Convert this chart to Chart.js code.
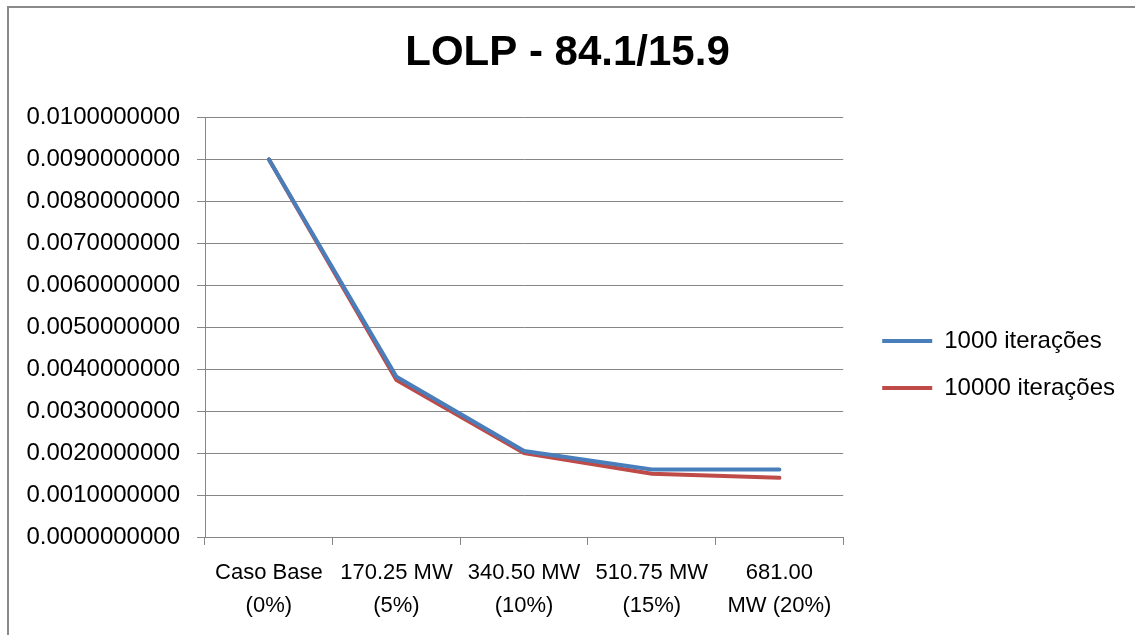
<!DOCTYPE html>
<html>
<head>
<meta charset="utf-8">
<script src="https://cdn.jsdelivr.net/npm/chart.js@4/dist/chart.umd.min.js"></script>
<style>
  body { margin: 0; background: #fff; }
  #wrap { position: relative; width: 1135px; height: 635px; overflow: hidden; }
  #frame { position: absolute; left: 7px; top: 6px; width: 1200px; height: 700px;
           border-left: 2px solid #8a8a8a; border-top: 2px solid #8a8a8a; }
  canvas { position: absolute; left: 0; top: 0; }
</style>
</head>
<body>
<div id="wrap">
  <div id="frame"></div>
  <canvas id="mycanvas" width="1135" height="635"></canvas>
</div>
<script>
var categories = [
  ["Caso Base", "(0%)"],
  ["170.25 MW", "(5%)"],
  ["340.50 MW", "(10%)"],
  ["510.75 MW", "(15%)"],
  ["681.00", "MW (20%)"]
];
var iter1000 = [0.0090, 0.00382, 0.00205, 0.00161, 0.00161];
var iter10000 = [0.0090, 0.00374, 0.00200, 0.00151, 0.00141];

var font = "'Liberation Sans', Arial, sans-serif";
var gray = "#868686";

// move the legend further right of the plot area and lower down
var legendShift = {
  id: "legendShift",
  beforeUpdate: function(chart) {
    var lg = chart.legend;
    if (!lg || lg._shifted) return;
    lg._shifted = true;
    var fit = lg.fit, draw = lg.draw;
    lg.fit = function() { fit.call(this); this.width += 16; };
    lg.draw = function() {
      this.left += 16; this.top += 48; this.bottom += 48;
      draw.call(this);
      this.left -= 16; this.top -= 48; this.bottom -= 48;
    };
  }
};

var chartdata = {
  labels: categories,
  datasets: [
    {
      label: "1000 iterações",
      data: iter1000,
      borderColor: "#4A7EBB",
      backgroundColor: "#4A7EBB",
      borderWidth: 4,
      borderCapStyle: "round",
      pointRadius: 0,
      tension: 0,
      fill: false
    },
    {
      label: "10000 iterações",
      data: iter10000,
      borderColor: "#BE4B48",
      backgroundColor: "#BE4B48",
      borderWidth: 4,
      borderCapStyle: "round",
      pointRadius: 0,
      tension: 0,
      fill: false
    }
  ]
};

var ctx = document.getElementById("mycanvas");

var LineGraph = new Chart(ctx, {
  type: "line",
  data: chartdata,
  plugins: [legendShift],
  options: {
    responsive: false,
    animation: false,
    layout: { padding: { left: 10, right: 10, top: 0, bottom: 2 } },
    plugins: {
      title: {
        display: true,
        text: "LOLP - 84.1/15.9",
        color: "#000",
        font: { family: font, size: 42, weight: "bold" },
        padding: { top: 28, bottom: 39 }
      },
      legend: {
        position: "right",
        labels: {
          usePointStyle: true,
          pointStyle: "line",
          pointStyleWidth: 50,
          boxWidth: 50,
          color: "#000",
          font: { family: font, size: 24 },
          padding: 23
        }
      },
      tooltip: { enabled: false }
    },
    scales: {
      x: {
        offset: true,
        grid: {
          offset: true,
          drawOnChartArea: false,
          drawTicks: true,
          tickLength: 8,
          color: gray
        },
        border: { display: true, color: gray, width: 1 },
        ticks: {
          color: "#000",
          font: { family: font, size: 22, lineHeight: 1.5 },
          maxRotation: 0,
          autoSkip: false,
          padding: 11
        }
      },
      y: {
        min: 0,
        max: 0.01,
        afterFit: function(scale) { scale.width = 195; },
        grid: { color: gray, tickLength: 8 },
        border: { display: true, color: gray, width: 1 },
        ticks: {
          stepSize: 0.001,
          color: "#000",
          font: { family: font, size: 24 },
          padding: 17,
          callback: function(value) { return value.toFixed(10); }
        }
      }
    }
  }
});
</script>
</body>
</html>
